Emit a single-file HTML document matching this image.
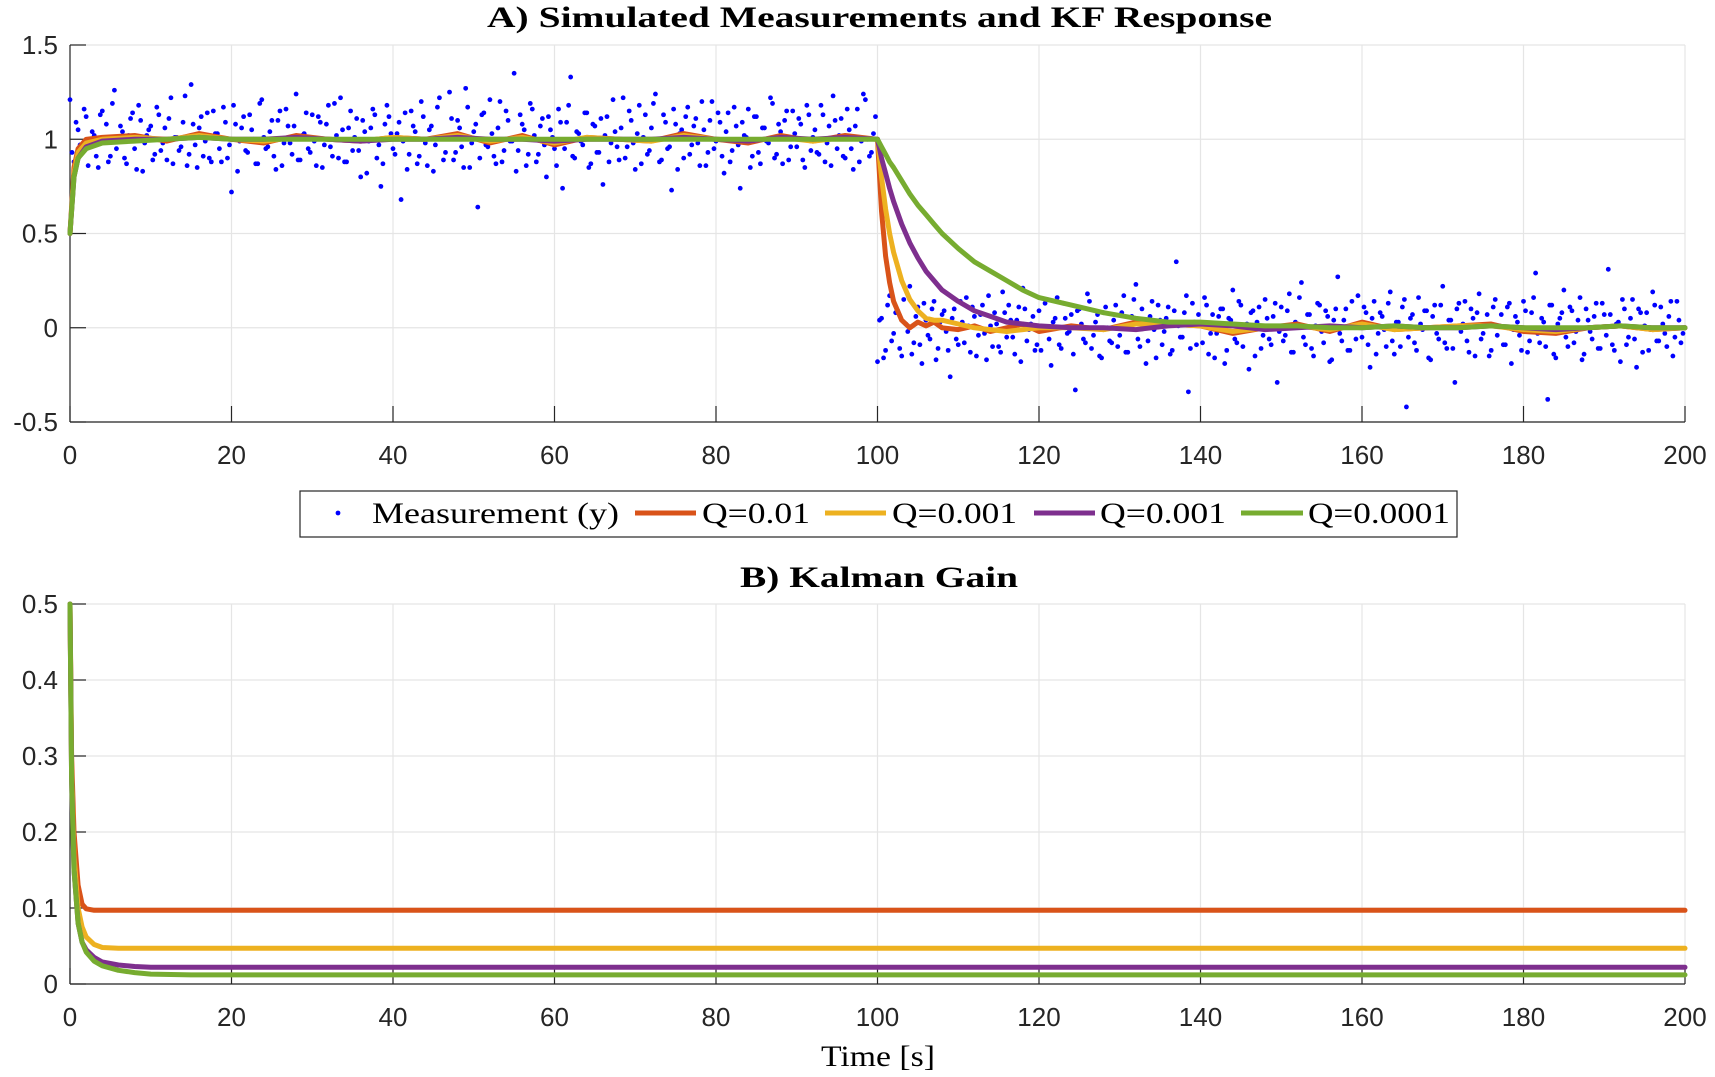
<!DOCTYPE html>
<html><head><meta charset="utf-8"><style>
html,body{margin:0;padding:0;background:#fff;}
svg{display:block;}
.tick{font-family:"Liberation Sans",sans-serif;font-size:26px;fill:#262626;}
.ttl{font-family:"Liberation Serif",serif;font-size:30px;font-weight:bold;fill:#000;}
.leg{font-family:"Liberation Serif",serif;font-size:30px;fill:#000;}
</style></head><body>
<svg id="fig" width="1715" height="1077" viewBox="0 0 1715 1077" xmlns="http://www.w3.org/2000/svg">
<text class="ttl" x="487" y="27" textLength="785" lengthAdjust="spacingAndGlyphs">A) Simulated Measurements and KF Response</text>
<text class="ttl" x="740" y="587" textLength="278" lengthAdjust="spacingAndGlyphs">B) Kalman Gain</text>
<text class="leg" x="821" y="1066" textLength="114" lengthAdjust="spacingAndGlyphs">Time [s]</text>
<g id="legend">
<rect x="300" y="491" width="1157" height="46" fill="#fff" stroke="#262626" stroke-width="1.2"/>
<g><circle cx="338" cy="513" r="2.4" fill="#0000FF"/><text class="leg" x="372" y="523" textLength="247" lengthAdjust="spacingAndGlyphs">Measurement (y)</text></g>
<g><line x1="635" y1="513" x2="696" y2="513" stroke="#D95319" stroke-width="5"/><text class="leg" x="702" y="523" textLength="108" lengthAdjust="spacingAndGlyphs">Q=0.01</text></g>
<g><line x1="825" y1="513" x2="886" y2="513" stroke="#EDB120" stroke-width="5"/><text class="leg" x="892" y="523" textLength="125" lengthAdjust="spacingAndGlyphs">Q=0.001</text></g>
<g><line x1="1034" y1="513" x2="1095" y2="513" stroke="#7E2F8E" stroke-width="5"/><text class="leg" x="1100" y="523" textLength="126" lengthAdjust="spacingAndGlyphs">Q=0.001</text></g>
<g><line x1="1241" y1="513" x2="1303" y2="513" stroke="#77AC30" stroke-width="5"/><text class="leg" x="1308" y="523" textLength="142" lengthAdjust="spacingAndGlyphs">Q=0.0001</text></g>
</g>
</svg>
<script>
const xTicks=[0,20,40,60,80,100,120,140,160,180,200];
const yTicksA=[-0.5,0,0.5,1,1.5];
const yTicksB=[0,0.1,0.2,0.3,0.4,0.5];
const yTickLabelsA=["-0.5","0","0.5","1","1.5"];
const yTickLabelsB=["0","0.1","0.2","0.3","0.4","0.5"];
const measPre=[1.21,0.88,1.05,0.93,1.12,0.97,1.02,0.85,1.15,1.08,0.91,1.26,0.99,1.04,0.87,1.11,0.95,1.18,0.83,1.02,
1.07,0.92,1.13,0.98,0.89,1.22,1.01,0.94,1.09,0.86,1.29,0.97,1.06,0.91,1.14,0.88,1.03,0.95,1.17,0.90,
0.72,1.08,0.99,1.12,0.93,1.05,0.87,1.19,1.01,0.96,1.10,0.84,1.15,0.98,1.07,0.92,1.24,0.89,1.03,0.95,
1.13,0.86,1.09,0.97,1.18,0.91,1.02,1.22,0.88,1.06,0.94,1.11,0.80,1.04,0.99,1.16,0.90,0.75,1.08,1.12,
0.95,1.03,0.68,1.14,0.92,1.07,0.87,1.20,0.98,1.05,0.83,1.17,1.01,0.93,1.25,0.89,1.10,0.96,1.27,0.85,
1.04,0.64,1.13,0.97,1.21,0.91,1.06,0.88,1.15,0.99,1.35,0.94,1.08,0.86,1.19,1.02,0.92,1.11,0.80,1.05,
0.95,1.16,0.74,1.09,1.33,0.90,1.03,0.97,1.14,0.87,1.07,0.93,0.76,1.12,0.98,1.04,0.89,1.22,0.96,1.10,
0.84,1.18,1.01,0.92,1.06,1.24,0.88,1.13,0.95,0.73,1.08,1.03,0.90,1.17,0.97,1.11,0.86,1.05,0.93,1.20,
0.99,1.09,0.82,1.14,0.94,1.07,0.74,1.02,1.16,0.91,1.12,0.87,1.06,0.98,1.19,0.92,1.04,1.10,0.89,1.15,
0.96,1.08,0.85,1.13,1.01,0.93,1.18,0.88,1.07,1.23,0.95,1.11,0.90,1.05,0.84,1.16,0.99,1.21,0.91,1.03];
const measPre2=[0.93,1.09,0.97,1.16,0.86,1.04,0.91,1.13,1.00,0.88,1.19,0.95,1.07,0.90,1.02,1.14,0.84,1.10,0.98,1.05,
0.89,1.17,0.94,1.06,1.11,0.87,1.01,0.96,1.23,0.92,1.08,0.85,1.12,0.99,0.90,1.15,1.03,0.88,1.09,0.97,
1.18,0.83,1.06,0.94,1.13,1.00,0.87,1.21,0.95,1.04,0.91,1.10,0.86,1.16,0.98,1.07,0.89,1.02,1.14,0.93,
0.99,1.12,0.85,1.08,0.96,1.19,0.90,1.05,0.88,1.15,1.01,0.94,1.10,0.82,1.06,1.13,0.97,0.87,1.18,1.03,
0.92,1.09,0.99,0.84,1.15,1.04,0.91,1.12,0.86,1.07,0.97,1.22,0.89,1.01,1.11,0.93,1.06,0.85,1.17,0.98,
1.08,0.90,1.14,0.96,1.03,0.87,1.20,0.94,1.10,0.99,0.83,1.13,1.05,0.92,1.16,0.88,1.07,0.97,1.12,1.01,
0.86,1.09,0.95,1.18,0.91,1.04,0.99,1.14,0.85,1.08,0.93,1.11,1.02,0.88,1.21,0.96,1.06,0.90,1.15,0.98,
1.03,0.87,1.13,0.94,1.19,1.00,0.89,1.09,0.96,1.16,0.84,1.05,1.12,0.92,1.07,0.98,1.20,0.86,1.10,0.95,
1.14,0.91,1.04,0.88,1.17,0.97,1.09,1.01,0.85,1.12,0.93,1.06,0.99,1.22,0.90,1.08,0.87,1.15,0.96,1.03,
1.11,0.89,1.18,0.94,1.05,0.92,1.13,0.98,0.86,1.10,1.02,0.91,1.16,0.95,1.07,0.88,1.24,1.00,0.93,1.12];
const measPost=[-0.18,0.05,-0.12,0.17,-0.03,0.09,-0.15,0.02,0.22,-0.08,0.11,-0.19,0.04,-0.06,0.14,-0.11,0.07,-0.02,-0.26,0.10,
-0.09,0.03,0.16,-0.13,0.06,-0.04,0.12,-0.17,0.01,0.08,-0.10,0.19,-0.05,0.04,-0.14,0.11,0.21,-0.07,0.02,-0.12,
0.09,-0.01,0.15,-0.20,0.05,-0.09,0.13,-0.03,0.07,-0.33,0.10,-0.06,0.18,-0.11,0.03,-0.15,0.08,0.00,-0.08,0.12,
-0.04,0.17,-0.13,0.06,0.23,-0.10,0.02,-0.07,0.14,-0.16,0.04,-0.02,0.11,-0.12,0.35,-0.05,0.08,-0.34,0.13,-0.09,
0.01,0.16,-0.14,0.07,-0.03,0.10,-0.19,0.05,0.20,-0.08,0.12,-0.01,-0.22,0.09,0.03,-0.11,0.15,-0.06,0.06,-0.29,
0.11,-0.04,0.18,-0.13,0.02,0.24,-0.09,0.07,-0.15,0.13,-0.02,0.09,-0.18,0.04,0.27,-0.07,0.10,-0.12,0.01,0.17,
-0.05,0.08,-0.21,0.14,-0.03,0.06,-0.10,0.19,-0.14,0.03,0.11,-0.42,0.05,-0.08,0.16,-0.01,0.09,-0.17,0.12,-0.06,
0.22,-0.11,0.04,-0.29,0.13,0.02,-0.07,0.10,-0.15,0.18,-0.03,0.07,-0.12,0.15,0.01,-0.09,0.11,-0.19,0.06,-0.04,
0.14,-0.13,0.08,0.29,-0.08,0.03,-0.38,0.12,-0.16,0.05,0.20,-0.10,0.09,-0.02,0.16,-0.14,0.04,-0.06,0.13,-0.11,
0.07,0.31,-0.09,0.02,-0.18,0.10,-0.05,0.15,-0.21,0.08,0.01,-0.12,0.19,-0.07,0.11,-0.03,0.06,-0.15,0.14,-0.08];
const measPost2=[0.04,-0.16,0.12,-0.07,0.08,-0.11,0.15,-0.02,-0.14,0.06,-0.09,0.13,-0.04,0.10,-0.17,0.03,0.09,-0.12,0.05,-0.06,
0.14,-0.08,0.01,0.11,-0.15,0.07,-0.03,0.17,-0.10,0.02,-0.13,0.08,0.12,-0.05,0.04,-0.18,0.10,-0.01,0.06,-0.09,
-0.12,0.13,-0.06,0.03,0.16,-0.11,0.05,-0.02,-0.14,0.09,0.02,-0.08,0.14,-0.04,0.07,-0.16,0.11,-0.07,0.04,-0.10,
0.08,-0.13,0.02,0.15,-0.06,0.10,-0.19,0.06,-0.01,0.12,-0.09,0.05,-0.14,0.09,0.01,-0.05,0.17,-0.11,0.03,0.07,
-0.08,0.12,-0.03,-0.16,0.06,0.10,-0.12,0.04,-0.06,0.14,-0.10,0.02,0.08,-0.15,0.11,-0.04,0.05,-0.09,0.13,-0.02,
-0.07,0.09,-0.13,0.03,0.16,-0.05,0.07,-0.11,0.01,0.12,-0.08,0.06,-0.17,0.10,-0.03,0.04,-0.12,0.14,-0.06,0.02,
0.11,-0.09,0.05,-0.14,0.08,-0.01,0.13,-0.07,0.03,-0.10,0.15,-0.05,0.07,-0.12,0.02,0.09,-0.16,0.06,-0.03,0.12,
-0.08,0.04,-0.11,0.10,-0.02,0.14,-0.13,0.05,0.08,-0.06,0.01,-0.15,0.11,-0.04,0.07,-0.09,0.13,-0.01,0.03,-0.12,
0.09,-0.07,0.16,-0.03,0.05,-0.10,0.12,-0.14,0.02,0.08,-0.05,0.11,-0.08,0.04,-0.17,0.10,-0.02,0.06,-0.11,0.13,
-0.04,0.07,-0.12,0.03,0.15,-0.09,0.05,-0.06,0.10,-0.13,0.08,-0.01,0.12,-0.07,0.02,-0.10,0.14,-0.05,0.04,-0.03];
const measDt=0.5;
const kfT=[0,0.5,1,2,4,8,12,16,20,24,28,32,36,40,44,48,52,56,60,64,68,72,76,80,84,88,92,96,100,
100.5,101,101.5,102,103,104,105,106,107,108,110,112,114,116,118,120,124,128,132,136,140,144,148,152,156,160,164,168,172,176,180,184,188,192,196,200];
const kfRed=[0.5,0.85,0.95,1.0,1.01,1.02,0.99,1.03,1.0,0.98,1.02,1.0,0.99,1.01,1.0,1.03,0.98,1.02,0.97,1.01,1.0,0.99,1.03,1.0,0.98,1.02,0.99,1.02,1.0,
0.62,0.38,0.24,0.14,0.04,0.0,0.03,0.01,0.03,0.0,-0.01,0.01,-0.02,0.0,0.02,-0.02,0.01,-0.01,0.03,0.02,0.01,-0.03,0.0,0.02,-0.02,0.03,-0.01,0.0,0.01,0.02,-0.02,-0.03,0.0,0.01,-0.01,0.0];
const kfYellow=[0.5,0.82,0.93,0.98,1.0,1.01,1.0,1.02,1.0,0.99,1.01,1.0,0.99,1.01,1.0,1.02,0.99,1.01,0.98,1.01,1.0,0.99,1.02,1.0,0.99,1.01,0.99,1.01,1.0,
0.8,0.63,0.5,0.4,0.25,0.15,0.09,0.05,0.04,0.04,0.02,0.0,-0.01,-0.02,-0.01,0.0,0.0,-0.01,0.02,0.02,0.01,-0.02,0.0,0.01,-0.01,0.02,-0.01,0.0,0.01,0.01,-0.01,-0.02,0.0,0.01,-0.01,0.0];
const kfPurple=[0.5,0.8,0.9,0.96,0.99,1.0,1.0,1.01,1.0,1.0,1.01,1.0,0.99,1.0,1.0,1.01,1.0,1.0,0.99,1.0,1.0,1.0,1.01,1.0,0.99,1.01,1.0,1.01,1.0,
0.9,0.82,0.74,0.67,0.55,0.45,0.37,0.3,0.25,0.2,0.14,0.09,0.06,0.03,0.02,0.01,0.0,0.0,-0.01,0.01,0.02,0.01,-0.01,0.0,0.01,0.0,0.01,0.0,0.0,0.01,0.0,-0.01,0.0,0.01,0.0,0.0];
const kfGreen=[0.5,0.8,0.9,0.95,0.98,0.99,1.0,1.01,1.0,1.0,1.0,1.0,1.0,1.0,1.0,1.0,1.0,1.0,1.0,1.0,1.0,1.0,1.0,1.0,1.0,1.0,1.0,1.0,1.0,
0.96,0.92,0.88,0.85,0.78,0.71,0.65,0.6,0.55,0.5,0.42,0.35,0.3,0.25,0.2,0.16,0.12,0.08,0.05,0.03,0.03,0.02,0.01,0.01,0.0,0.0,0.01,0.0,0.0,0.01,0.0,0.0,0.0,0.01,0.0,0.0];
const gainT=[0,0.2,0.5,1,1.5,2,3,4,6,8,10,15,20,200];
const gainRed=[0.5,0.3,0.2,0.13,0.105,0.099,0.097,0.097,0.097,0.097,0.097,0.097,0.097,0.097];
const gainYellow=[0.5,0.28,0.17,0.1,0.075,0.062,0.052,0.048,0.047,0.047,0.047,0.047,0.047,0.047];
const gainPurple=[0.5,0.27,0.15,0.08,0.055,0.045,0.035,0.029,0.025,0.023,0.022,0.022,0.022,0.022];
const gainGreen=[0.5,0.27,0.15,0.08,0.055,0.042,0.03,0.024,0.018,0.015,0.013,0.012,0.012,0.012];

const NS="http://www.w3.org/2000/svg";
const svg=document.getElementById('fig');
function mk(tag,attrs,parent){const e=document.createElementNS(NS,tag);for(const k in attrs)e.setAttribute(k,attrs[k]);(parent||svg).appendChild(e);return e;}
const X0=70,X1=1685;
function xs(t){return X0+(t/200)*(X1-X0);}
const A={top:45,bot:422,min:-0.5,max:1.5};
const B={top:604,bot:984,min:0,max:0.5};
function ysA(v){return A.bot-(v-A.min)/(A.max-A.min)*(A.bot-A.top);}
function ysB(v){return B.bot-(v-B.min)/(B.max-B.min)*(B.bot-B.top);}

function axes(P,ys,yt,ytl,name){
  const g=mk('g',{});
  
  
  xTicks.forEach(t=>{const l=mk('line',{x1:xs(t),x2:xs(t),y1:P.top,y2:P.bot,stroke:'#e5e5e5','stroke-width':1.2},g);
    });
  yt.forEach(v=>{const l=mk('line',{x1:X0,x2:X1,y1:ys(v),y2:ys(v),stroke:'#e5e5e5','stroke-width':1.2},g);
    });
  const ax=mk('line',{x1:X0,x2:X1,y1:P.bot,y2:P.bot,stroke:'#262626','stroke-width':1.2},g);
  
  const ay=mk('line',{x1:X0,x2:X0,y1:P.top,y2:P.bot,stroke:'#262626','stroke-width':1.2},g);
  
  xTicks.forEach(t=>{mk('line',{x1:xs(t),x2:xs(t),y1:P.bot,y2:P.bot-16,stroke:'#262626','stroke-width':1.2},g);
    const tx=mk('text',{x:xs(t),y:P.bot+42,'text-anchor':'middle',class:'tick'},g);tx.textContent=t;
    });
  yt.forEach((v,i)=>{mk('line',{x1:X0,x2:X0+16,y1:ys(v),y2:ys(v),stroke:'#262626','stroke-width':1.2},g);
    const tx=mk('text',{x:X0-12,y:ys(v)+9,'text-anchor':'end',class:'tick'},g);tx.textContent=ytl[i];
    });
}
axes(A,ysA,yTicksA,yTickLabelsA,'chart-a');
axes(B,ysB,yTicksB,yTickLabelsB,'chart-b');

const dots=mk('g',{fill:'#0000FF'});


const meas=measPre.concat(measPost);
const meas2=measPre2.concat(measPost2);
meas.forEach((v,i)=>{const c=mk('circle',{cx:xs(i*measDt),cy:ysA(v),r:2.4},dots);
  });
meas2.forEach((v,i)=>{const c=mk('circle',{cx:xs(i*measDt+measDt/2),cy:ysA(v),r:2.4},dots);
  });

function line(T,V,ys,color,name){
  const d=T.map((t,i)=>(i?'L':'M')+xs(t).toFixed(1)+','+ys(V[i]).toFixed(1)).join('');
  const p=mk('path',{d:d,fill:'none',stroke:color,'stroke-width':5,'stroke-linejoin':'round','stroke-linecap':'round'});
  
  
}
line(kfT,kfRed,ysA,'#D95319','kf-line-q-0.01');
line(kfT,kfYellow,ysA,'#EDB120','kf-line-q-0.001-a');
line(kfT,kfPurple,ysA,'#7E2F8E','kf-line-q-0.001-b');
line(kfT,kfGreen,ysA,'#77AC30','kf-line-q-0.0001');
line(gainT,gainRed,ysB,'#D95319','gain-line-q-0.01');
line(gainT,gainYellow,ysB,'#EDB120','gain-line-q-0.001-a');
line(gainT,gainPurple,ysB,'#7E2F8E','gain-line-q-0.001-b');
line(gainT,gainGreen,ysB,'#77AC30','gain-line-q-0.0001');
svg.appendChild(document.getElementById('legend'));
</script>
</body></html>
